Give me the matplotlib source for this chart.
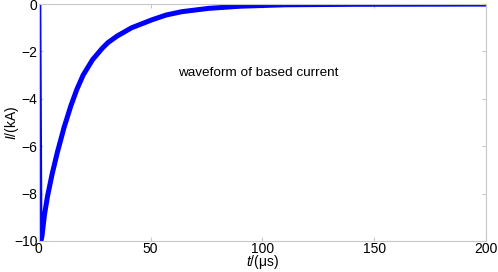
import matplotlib
matplotlib.use("Agg")
import matplotlib.pyplot as plt

# values (t in microseconds, I in kA)
t_us = [0, 0.5, 0.9, 1.4, 2.5, 3.9, 6.0, 8.3, 11.3, 14.3, 17.0, 19.8, 24.0,
        28.5, 31.0, 35.0, 41.5, 50.7, 57.0, 64.0, 76.0, 90.0, 110.0, 140.0, 200.0]
i_ka = [0, -9.9, -10.0, -9.8, -8.9, -8.1, -7.15, -6.25, -5.2, -4.3, -3.6, -3.0, -2.35,
        -1.85, -1.62, -1.35, -1.0, -0.66, -0.46, -0.32, -0.18, -0.09, -0.03, -0.01, 0.0]

x_ticks = [0, 50, 100, 150, 200]
y_ticks = [0, -2, -4, -6, -8, -10]
note = "waveform of based current"

plt.rcParams['font.family'] = ['Liberation Sans', 'DejaVu Sans']
plt.rcParams['mathtext.fontset'] = 'custom'
plt.rcParams['mathtext.it'] = 'Liberation Sans:italic'
plt.rcParams['mathtext.rm'] = 'Liberation Sans'

fig = plt.figure(figsize=(4.98, 2.72), dpi=100)
ax = fig.add_axes([0.078, 0.114, 0.898, 0.871])

ax.plot(t_us, i_ka, color='#0000ff', linewidth=3.6,
        solid_joinstyle='round', solid_capstyle='round')

ax.set_xlim(0, 200)
ax.set_ylim(-10, 0)
ax.set_xticks(x_ticks)
ax.set_yticks(y_ticks)

for s in ax.spines.values():
    s.set_color('#c8c8c8')
    s.set_linewidth(0.8)
ax.tick_params(direction='in', length=3, color='#c8c8c8', labelsize=10,
               top=True, right=True, pad=1)

ax.set_xlabel(r'$\mathit{t}$/(μs)', fontsize=10, va='center')
ax.xaxis.set_label_coords(0.5, -0.089)
ax.set_ylabel(r'$\mathit{I}$/(kA)', fontsize=10, va='center')
ax.yaxis.set_label_coords(-0.06, 0.5)

ax.text(0.49, 0.709, note, transform=ax.transAxes, fontsize=9.7,
        ha='center', va='center')

fig.savefig("out.png", dpi=100)
